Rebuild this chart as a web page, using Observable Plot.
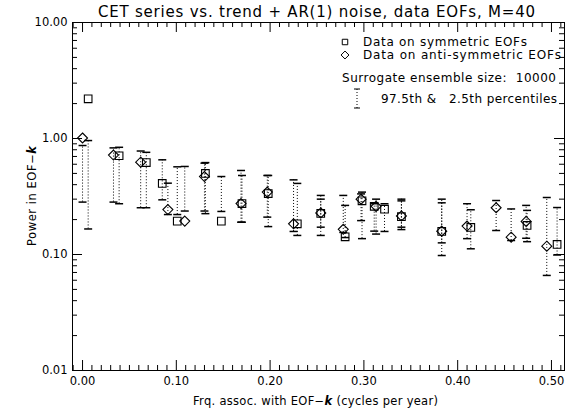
<!DOCTYPE html>
<html>
<head>
<meta charset="utf-8">
<script src="https://cdn.jsdelivr.net/npm/d3@7"></script>
<script src="https://cdn.jsdelivr.net/npm/@observablehq/plot@0.6"></script>
<style>
  html, body { margin: 0; padding: 0; background: #fff; }
  #chart svg { display: block; }
</style>
</head>
<body>
<div id="chart"></div>
<script>
// Power captured by the data on symmetric EOFs (squares), with the
// 97.5th / 2.5th percentiles of the surrogate ensemble.
const symFreq  = [0.006, 0.039, 0.068, 0.085, 0.101, 0.131, 0.148, 0.170, 0.198, 0.229,
                  0.254, 0.280, 0.298, 0.311, 0.322, 0.340, 0.383, 0.414, 0.474, 0.506];
const symPower = [2.20, 0.71, 0.62, 0.41, 0.194, 0.50, 0.194, 0.275, 0.335, 0.184,
                  0.226, 0.142, 0.29, 0.26, 0.246, 0.212, 0.158, 0.171, 0.178, 0.122];
const symUpper = [0.96, 0.84, 0.76, 0.655, 0.57, 0.62, 0.47, 0.48, 0.48, 0.41,
                  0.30, 0.265, 0.345, 0.274, 0.274, 0.29, 0.279, 0.243, 0.24, 0.254];
const symLower = [0.166, 0.274, 0.253, 0.296, 0.221, 0.225, 0.235, 0.19, 0.174, 0.146,
                  0.146, 0.14, 0.137, 0.159, 0.158, 0.164, 0.126, 0.112, 0.129, 0.099];

// Same for the anti-symmetric EOFs (diamonds).
const antiFreq  = [0.000, 0.033, 0.062, 0.091, 0.109, 0.130, 0.169, 0.197, 0.225, 0.254,
                   0.278, 0.297, 0.313, 0.340, 0.383, 0.410, 0.441, 0.457, 0.473, 0.495];
const antiPower = [1.01, 0.72, 0.625, 0.244, 0.194, 0.47, 0.275, 0.345, 0.184, 0.228,
                   0.165, 0.30, 0.26, 0.215, 0.159, 0.176, 0.253, 0.141, 0.193, 0.118];
const antiUpper = [0.87, 0.83, 0.78, 0.412, 0.574, 0.613, 0.53, 0.48, 0.44, 0.323,
                   0.323, 0.333, 0.30, 0.30, 0.30, 0.274, 0.292, 0.247, 0.265, 0.31];
const antiLower = [0.283, 0.283, 0.253, 0.221, 0.237, 0.237, 0.19, 0.21, 0.158, 0.172,
                   0.155, 0.196, 0.15, 0.172, 0.098, 0.137, 0.161, 0.132, 0.138, 0.066];

// Axis ticks and labels
const xTickValues = [0, 0.1, 0.2, 0.3, 0.4, 0.5];
const xMinorTicks = d3.range(-1, 52).map(i => i / 100).filter(v => Math.round(v * 100) % 10 !== 0);
const yTickValues = [0.01, 0.1, 1, 10];
const yMinorTicks = [0.01, 0.1, 1].flatMap(d => d3.range(2, 10).map(m => +(m * d).toPrecision(2)));

const title = "CET series vs. trend + AR(1) noise, data EOFs, M=40";
const ensembleSize = 10000;

const W = 575, H = 413;
const mL = 72, mR = 11, mT = 22, mB = 43;
const plotW = W - mL - mR, plotH = H - mT - mB;
const font = "DejaVu Sans";

const sym = symFreq.map((f, i) => ({f, p: symPower[i], hi: symUpper[i], lo: symLower[i]}));
const anti = antiFreq.map((f, i) => ({f, p: antiPower[i], hi: antiUpper[i], lo: antiLower[i]}));
const bars = [...anti, ...sym];

// short horizontal cap for the percentile bars
const capSymbol = {
  draw(context, size) {
    const h = Math.sqrt(size / Math.PI);
    context.moveTo(-h, 0);
    context.lineTo(h, 0);
  }
};

const chart = Plot.plot({
  width: W,
  height: H,
  marginLeft: mL, marginRight: mR, marginTop: mT, marginBottom: mB,
  style: {fontFamily: font, fontSize: "11.5px", color: "black", background: "white"},
  x: {domain: [-0.0107, 0.5139], axis: null},
  y: {type: "log", domain: [0.01, 10], axis: null},
  marks: [
    Plot.frame({stroke: "black", strokeWidth: 1}),
    // inward ticks on all four sides
    Plot.ruleX(xTickValues, {x: d => d, insetTop: plotH - 10, stroke: "black"}),
    Plot.ruleX(xTickValues, {x: d => d, insetBottom: plotH - 10, stroke: "black"}),
    Plot.ruleX(xMinorTicks, {x: d => d, insetTop: plotH - 5, stroke: "black"}),
    Plot.ruleX(xMinorTicks, {x: d => d, insetBottom: plotH - 5, stroke: "black"}),
    Plot.ruleY(yTickValues, {y: d => d, insetRight: plotW - 10, stroke: "black"}),
    Plot.ruleY(yTickValues, {y: d => d, insetLeft: plotW - 10, stroke: "black"}),
    Plot.ruleY(yMinorTicks, {y: d => d, insetRight: plotW - 5, stroke: "black"}),
    Plot.ruleY(yMinorTicks, {y: d => d, insetLeft: plotW - 5, stroke: "black"}),
    Plot.axisX(xTickValues, {anchor: "bottom", tickSize: 0, tickPadding: 6, tickFormat: d3.format(".2f"), label: null, fontSize: 11.5}),
    Plot.axisY(yTickValues, {anchor: "left", tickSize: 0, tickPadding: 5, tickFormat: d3.format(".2f"), label: null, fontSize: 11.5}),
    // surrogate percentile bars
    Plot.ruleX(bars, {x: "f", y1: "lo", y2: "hi", stroke: "black", strokeWidth: 1, strokeDasharray: "1,2"}),
    Plot.dot(bars, {x: "f", y: "hi", symbol: capSymbol, r: 4, stroke: "black", fill: "none"}),
    Plot.dot(bars, {x: "f", y: "lo", symbol: capSymbol, r: 4, stroke: "black", fill: "none"}),
    // data
    Plot.dot(sym, {x: "f", y: "p", symbol: "square", r: 4.3, stroke: "black", fill: "none", strokeWidth: 1.1}),
    Plot.dot(anti, {x: "f", y: "p", symbol: "diamond2", r: 4.5, stroke: "black", fill: "none", strokeWidth: 1.1})
  ]
});

const svg = d3.select(chart);

// helper: text stretched to a given length, drawn from its start
function addText(parent, x, y, str, len, size, anchor = "start") {
  return parent.append("text")
    .attr("x", x).attr("y", y)
    .attr("text-anchor", anchor)
    .attr("font-size", size)
    .attr("fill", "black")
    .attr("textLength", len)
    .attr("lengthAdjust", "spacing")
    .style("white-space", "pre")
    .text(str);
}

// title
addText(svg, 316.5, 17, title, 437, 15, "middle");

// axis titles with a bold italic k
const xt = svg.append("text")
  .attr("x", 315.5).attr("y", 405)
  .attr("text-anchor", "middle")
  .attr("font-size", 11.5).attr("fill", "black")
  .attr("textLength", 245).attr("lengthAdjust", "spacing");
xt.append("tspan").text("Frq. assoc. with EOF\u2212");
xt.append("tspan").attr("font-weight", "bold").attr("font-style", "italic").text("k");
xt.append("tspan").text(" (cycles per year)");

const yt = svg.append("text")
  .attr("transform", `translate(36,${mT + plotH / 2}) rotate(-90)`)
  .attr("text-anchor", "middle")
  .attr("font-size", 11.5).attr("fill", "black")
  .attr("textLength", 100).attr("lengthAdjust", "spacing");
yt.append("tspan").text("Power in EOF\u2212");
yt.append("tspan").attr("font-weight", "bold").attr("font-style", "italic").text("k");

// legend
const lg = svg.append("g");
lg.append("path").attr("d", d3.symbol(d3.symbolSquare, 30)()).attr("transform", "translate(345,42)")
  .attr("fill", "none").attr("stroke", "black");
lg.append("path").attr("d", d3.symbol(d3.symbolDiamond2, 40)()).attr("transform", "translate(345,55)")
  .attr("fill", "none").attr("stroke", "black");
addText(lg, 363, 46, "Data on symmetric EOFs", 164, 12);
addText(lg, 363, 59, "Data on anti-symmetric EOFs", 198, 12);
addText(lg, 342, 82, `Surrogate ensemble size:  ${ensembleSize}`, 214, 12);
lg.append("line").attr("x1", 357).attr("x2", 357).attr("y1", 89).attr("y2", 108)
  .attr("stroke", "black").attr("stroke-dasharray", "1,2");
lg.append("line").attr("x1", 354).attr("x2", 360).attr("y1", 89).attr("y2", 89).attr("stroke", "black");
lg.append("line").attr("x1", 354).attr("x2", 360).attr("y1", 108).attr("y2", 108).attr("stroke", "black");
addText(lg, 381, 103, "97.5th &   2.5th percentiles", 176, 12);

document.getElementById("chart").appendChild(chart);
</script>
</body>
</html>
